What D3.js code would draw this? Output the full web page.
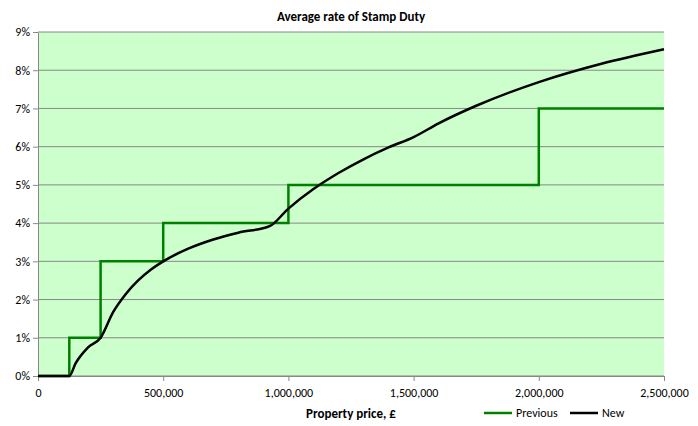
<!DOCTYPE html>
<html><head><meta charset="utf-8">
<script src="https://cdn.jsdelivr.net/npm/d3@7"></script>
<style>body{margin:0;background:#fff}text{font-family:Calibri,"Liberation Sans",Arial,sans-serif}</style>
</head><body><svg id="c" width="698" height="426"></svg>
<script>
const prevPrice = [0,125000,125000,250000,250000,500000,500000,1000000,1000000,2000000,2000000,2500000];
const prevRate  = [0,0,1,1,3,3,4,4,5,5,7,7];
const newPrice = [0,125000,150000,200000,250000,300000,350000,400000,450000,500000,600000,700000,800000,925000,1000000,1100000,1200000,1300000,1400000,1500000,1600000,1750000,2000000,2250000,2500000];
const newRate  = [0,0,0.33,0.75,1.0,1.67,2.14,2.5,2.78,3.0,3.33,3.57,3.75,3.92,4.38,4.89,5.31,5.67,5.98,6.25,6.61,7.07,7.69,8.17,8.55];
const xTicks = [0,500000,1000000,1500000,2000000,2500000];
const yTicks = [0,1,2,3,4,5,6,7,8,9];

const svg = d3.select("#c");
const x = d3.scaleLinear().domain([0,2500000]).range([38,664]);
const y = d3.scaleLinear().domain([0,9]).range([376,32]);
svg.append("rect").attr("x",38).attr("y",32).attr("width",626).attr("height",344).attr("fill","#CCFFCC");
svg.append("g").selectAll("line").data(yTicks).join("line")
  .attr("x1",38).attr("x2",664).attr("y1",d=>y(d)).attr("y2",d=>y(d)).attr("stroke","#888").attr("stroke-width",1);
const xa = svg.append("g").attr("transform","translate(0,376)")
  .call(d3.axisBottom(x).tickValues(xTicks).tickFormat(d3.format(",")).tickSize(5).tickSizeOuter(0));
xa.select(".domain").attr("stroke","#888");
xa.selectAll("line").attr("stroke","#888");
xa.selectAll("text").attr("font-size",12).attr("fill","#000").attr("dy","1.1em");
const ya = svg.append("g").attr("transform","translate(38,0)")
  .call(d3.axisLeft(y).tickValues(yTicks).tickFormat(d=>d+"%").tickSize(5).tickSizeOuter(0));
ya.select(".domain").attr("stroke","#888");
ya.selectAll("line").attr("stroke","#888");
ya.selectAll("text").attr("font-size",12).attr("fill","#000");
const line = d3.line().x(d=>x(d[0])).y(d=>y(d[1]));
svg.append("path").attr("d",line(prevPrice.map((p,i)=>[p,prevRate[i]]))).attr("fill","none").attr("stroke","#008000").attr("stroke-width",2.5);
svg.append("path").attr("d",d3.line().curve(d3.curveMonotoneX).x(d=>x(d[0])).y(d=>y(d[1]))(newPrice.map((p,i)=>[p,newRate[i]]))).attr("fill","none").attr("stroke","#000").attr("stroke-width",2.5);
svg.append("text").attr("x",351).attr("y",21).attr("text-anchor","middle").attr("font-size",13).attr("font-weight","bold").text("Average rate of Stamp Duty");
svg.append("text").attr("x",351).attr("y",418).attr("text-anchor","middle").attr("font-size",13).attr("font-weight","bold").text("Property price,  £");
const leg=[["Previous","#008000",484],["New","#000",570]];
leg.forEach(([t,c,lx])=>{
  svg.append("line").attr("x1",lx).attr("x2",lx+28).attr("y1",413).attr("y2",413).attr("stroke",c).attr("stroke-width",2.5);
  svg.append("text").attr("x",lx+32).attr("y",417).attr("font-size",12).text(t);
});
</script></body></html>
